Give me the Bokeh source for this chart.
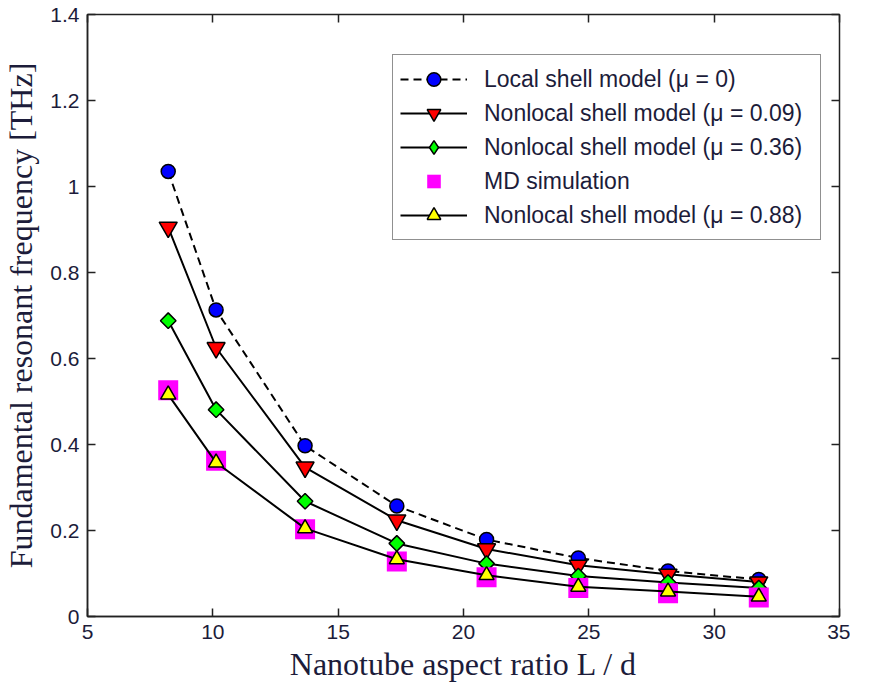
import numpy as np
from bokeh.plotting import figure
from bokeh.models import (Legend, LegendItem, LinearAxis, FixedTicker,
                          NumeralTickFormatter, Range1d, CustomJSTickFormatter)
from bokeh.embed import file_html
from bokeh.resources import INLINE

# ---- data ----
aspect_ratio = [8.22, 10.13, 13.68, 17.34, 20.92, 24.58, 28.16, 31.78]
local_mu0 = [1.035, 0.713, 0.397, 0.257, 0.179, 0.136, 0.106, 0.086]
nonlocal_mu009 = [0.905, 0.625, 0.347, 0.224, 0.157, 0.119, 0.098, 0.080]
nonlocal_mu036 = [0.688, 0.481, 0.268, 0.170, 0.123, 0.094, 0.079, 0.066]
md_simulation = [0.526, 0.362, 0.203, 0.128, 0.091, 0.066, 0.054, 0.044]
nonlocal_mu088 = [0.516, 0.358, 0.205, 0.133, 0.096, 0.069, 0.058, 0.046]

x_ticks = [5, 10, 15, 20, 25, 30, 35]
y_ticks = [0, 0.2, 0.4, 0.6, 0.8, 1.0, 1.2, 1.4]

labels = ["Local shell model (\u03bc = 0)",
          "Nonlocal shell model (\u03bc = 0.09)",
          "Nonlocal shell model (\u03bc = 0.36)",
          "MD simulation",
          "Nonlocal shell model (\u03bc = 0.88)"]

TEXT_COLOR = "#1c1c3a"

p = figure(width=850, height=690, x_range=Range1d(5, 35), y_range=Range1d(0, 1.4),
           output_backend="svg", toolbar_location=None,
           min_border_left=85, min_border_right=11, min_border_top=14,
           min_border_bottom=74)
p.grid.visible = False
p.outline_line_color = "#222222"
p.outline_line_width = 1.5
p.background_fill_color = "white"
p.border_fill_color = "white"

for ax in (p.xaxis[0], p.yaxis[0]):
    ax.major_tick_in = 8
    ax.major_tick_out = 0
    ax.minor_tick_in = 0
    ax.minor_tick_out = 0
    ax.axis_line_color = "#222222"
    ax.axis_line_width = 1.5
    ax.major_tick_line_color = "#222222"
    ax.major_tick_line_width = 1.5
    ax.major_label_text_font = "Liberation Sans"
    ax.major_label_text_font_size = "21px"
    ax.major_label_text_color = TEXT_COLOR
    ax.major_label_standoff = 8
    ax.axis_label_text_font = "Liberation Serif"
    ax.axis_label_text_font_style = "normal"
    ax.axis_label_text_font_size = "32px"
    ax.axis_label_text_color = TEXT_COLOR

p.xaxis[0].ticker = FixedTicker(ticks=x_ticks)
p.yaxis[0].ticker = FixedTicker(ticks=y_ticks)
p.yaxis[0].formatter = NumeralTickFormatter(format="0.[0]")
p.xaxis[0].axis_label = "Nanotube aspect ratio L / d"
p.yaxis[0].axis_label = "Fundamental resonant frequency [THz]"
p.xaxis[0].axis_label_standoff = 4
p.yaxis[0].axis_label_standoff = 8

# mirrored ticks on top and right (box on), no labels
blank = CustomJSTickFormatter(code="return ''")
top = LinearAxis(ticker=FixedTicker(ticks=x_ticks), formatter=blank,
                 major_tick_in=8, major_tick_out=0, minor_tick_in=0, minor_tick_out=0,
                 major_label_standoff=0, axis_line_color=None,
                 major_tick_line_color="#222222", major_tick_line_width=1.5)
right = LinearAxis(ticker=FixedTicker(ticks=y_ticks), formatter=blank,
                   major_tick_in=8, major_tick_out=0, minor_tick_in=0, minor_tick_out=0,
                   major_label_standoff=0, axis_line_color=None,
                   major_tick_line_color="#222222", major_tick_line_width=1.5)
p.add_layout(top, "above")
p.add_layout(right, "right")

LW = 2
EDGE = 1.5

l0 = p.line(aspect_ratio, local_mu0, line_color="black", line_width=LW, line_dash="8 5")
m0 = p.scatter(aspect_ratio, local_mu0, marker="circle", size=14, fill_color="#0000ff",
               line_color="black", line_width=EDGE)

l1 = p.line(aspect_ratio, nonlocal_mu009, line_color="black", line_width=LW)
m1 = p.scatter(aspect_ratio, nonlocal_mu009, marker="inverted_triangle", size=18,
               fill_color="#ff0000", line_color="black", line_width=EDGE)

l2 = p.line(aspect_ratio, nonlocal_mu036, line_color="black", line_width=LW)
m2 = p.scatter(aspect_ratio, nonlocal_mu036, marker="square", size=11, angle=np.pi / 4,
               fill_color="#00ff00", line_color="black", line_width=EDGE)
# hidden twin used only for the legend swatch (legend ignores marker angle)
m2_key = p.scatter(aspect_ratio, nonlocal_mu036, marker="diamond", size=15,
                   fill_color="#00ff00", line_color="black", line_width=EDGE,
                   visible=False)

m3 = p.scatter(aspect_ratio, md_simulation, marker="square", size=20,
               fill_color="#ff00ff", line_color=None)

l4 = p.line(aspect_ratio, nonlocal_mu088, line_color="black", line_width=LW)
m4 = p.scatter(aspect_ratio, nonlocal_mu088, marker="triangle", size=15,
               fill_color="#ffff00", line_color="black", line_width=EDGE)

legend = Legend(items=[
    LegendItem(label=labels[0], renderers=[l0, m0]),
    LegendItem(label=labels[1], renderers=[l1, m1]),
    LegendItem(label=labels[2], renderers=[l2, m2_key]),
    LegendItem(label=labels[3], renderers=[m3]),
    LegendItem(label=labels[4], renderers=[l4, m4]),
], location=(305, 376))
legend.border_line_color = "#222222"
legend.border_line_width = 1.5
legend.background_fill_color = "white"
legend.background_fill_alpha = 1.0
legend.label_text_font = "Liberation Sans"
legend.label_text_font_size = "23px"
legend.label_text_color = TEXT_COLOR
legend.glyph_width = 67
legend.glyph_height = 34
legend.label_height = 34
legend.label_width = 329
legend.label_standoff = 17
legend.spacing = 0
legend.padding = 7
legend.margin = 0
legend.inactive_fill_alpha = 0
p.add_layout(legend)

open("out.html", "w").write(file_html(p, INLINE))
